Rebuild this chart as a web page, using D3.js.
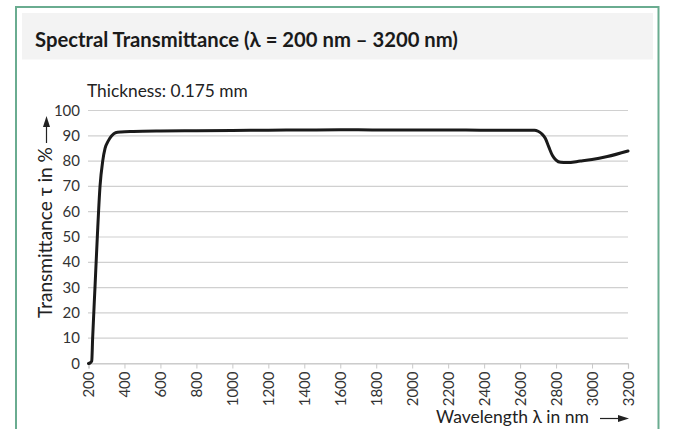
<!DOCTYPE html>
<html><head><meta charset="utf-8">
<script src="https://cdn.jsdelivr.net/npm/d3@7"></script>
<style>body{margin:0;background:#fff;}svg{display:block;}</style>
</head><body>
<svg id="c" width="674" height="429"></svg>
<script>
const title = "Spectral Transmittance (\u03bb = 200 nm \u2013 3200 nm)";
const subtitle = "Thickness: 0.175 mm";
const yTitle = "Transmittance \u03c4 in %";
const xTitle = "Wavelength \u03bb in nm";
const xTicks = [200,400,600,800,1000,1200,1400,1600,1800,2000,2200,2400,2600,2800,3000,3200];
const yTicks = [0,10,20,30,40,50,60,70,80,90,100];
const wavelength = [200,210,218,223,236,249,264,279,292,310,329,350,380,450,600,800,1000,1200,1400,1600,1800,2000,2200,2400,2600,2680,2700,2720,2740,2760,2780,2800,2825,2860,2935,3000,3085,3200];
const transmittance = [0,0.3,1,10,30,50,70,80,85,88,90,91.2,91.5,91.7,91.9,92.0,92.1,92.2,92.3,92.4,92.3,92.3,92.3,92.2,92.2,92.2,91.8,90.8,89,85.5,82.2,80.4,79.5,79.4,80,80.6,81.8,84];

const F = "Lato, 'Open Sans', sans-serif";
const svg = d3.select("#c");
// frame
svg.append("rect").attr("x",-10).attr("y",-10).attr("width",700).attr("height",450).attr("fill","#fff");
svg.append("rect").attr("x",22).attr("y",13).attr("width",631).attr("height",46.5).attr("fill","#f3f3f3");
svg.append("path").attr("d","M16,440V7H658.5V440").attr("fill","none").attr("stroke","#6aac90").attr("stroke-width",2);

function fitText(sel, w){ const l = sel.node().getComputedTextLength(); const fs = parseFloat(sel.attr("font-size")); sel.attr("font-size", fs*w/l); }

const t = svg.append("text").attr("x",35).attr("y",47).attr("font-family",F).attr("font-weight","bold").attr("font-size",17).attr("fill","#1a1a1a").text(title);
fitText(t, 423);
const st = svg.append("text").attr("x",87).attr("y",97).attr("font-family",F).attr("font-size",15).attr("fill","#222").text(subtitle);
fitText(st, 161);

const x = d3.scaleLinear().domain([200,3200]).range([88.5,628]);
const y = d3.scaleLinear().domain([0,100]).range([363.5,110.5]);

// gridlines
svg.append("g").selectAll("line").data(yTicks).join("line")
  .attr("x1",88).attr("x2",628).attr("y1",d=>y(d)).attr("y2",d=>y(d))
  .attr("stroke","#d0d0d0").attr("stroke-width",1.2);
// y labels
svg.append("g").selectAll("text").data(yTicks).join("text")
  .attr("x",80).attr("y",d=>y(d)+5).attr("text-anchor","end")
  .attr("font-family",F).attr("font-size",15).attr("fill","#333").text(d=>d);
// x axis
const xa = svg.append("g").attr("transform",`translate(0,${y(0)})`)
  .call(d3.axisBottom(x).tickValues(xTicks).tickSize(5).tickPadding(6).tickFormat(d3.format("d")));
xa.select(".domain").attr("stroke","#c8c8c8").attr("stroke-width",1.2);
xa.selectAll(".tick line").attr("stroke","#c8c8c8");
xa.selectAll(".tick text").attr("font-family",F).attr("font-size",15).attr("fill","#333")
  .attr("transform","rotate(-90)").attr("text-anchor","end").attr("x",-8).attr("y",0).attr("dy","0.35em");

// curve
const pts = wavelength.map((w,i)=>[w,transmittance[i]]);
svg.append("path").datum(pts).attr("fill","none").attr("stroke","#1a1a1a").attr("stroke-width",3)
  .attr("stroke-linejoin","round").attr("stroke-linecap","round")
  .attr("d", d3.line().x(d=>x(d[0])).y(d=>y(d[1])).curve(d3.curveMonotoneX));

// y title with arrow
const yt = svg.append("text").attr("transform","translate(52,318) rotate(-90)")
  .attr("font-family",F).attr("font-size",15).attr("fill","#222").text(yTitle);
fitText(yt, 171);
svg.append("line").attr("x1",46.5).attr("x2",46.5).attr("y1",143).attr("y2",124).attr("stroke","#222").attr("stroke-width",1.2);
svg.append("path").attr("d","M46.5,116L43,127L50,127Z").attr("fill","#222");

// x title with arrow
const xt = svg.append("text").attr("x",436).attr("y",423).attr("font-family",F).attr("font-size",15).attr("fill","#222").text(xTitle);
fitText(xt, 153);
svg.append("line").attr("x1",600).attr("x2",620).attr("y1",418.5).attr("y2",418.5).attr("stroke","#222").attr("stroke-width",1.2);
svg.append("path").attr("d","M629,418.5L618,415L618,422Z").attr("fill","#222");
</script>
</body></html>
